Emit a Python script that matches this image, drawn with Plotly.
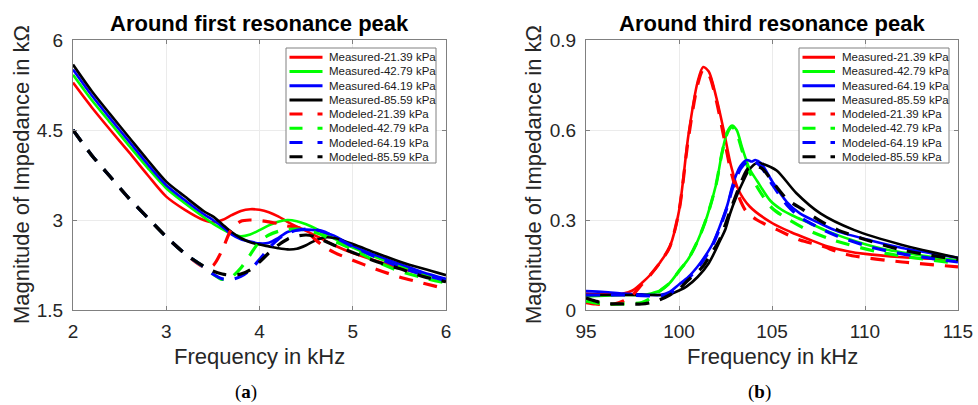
import plotly.graph_objects as go

# ---------------- data ----------------
series_names = ["Measured-21.39 kPa", "Measured-42.79 kPa", "Measured-64.19 kPa", "Measured-85.59 kPa",
                "Modeled-21.39 kPa", "Modeled-42.79 kPa", "Modeled-64.19 kPa", "Modeled-85.59 kPa"]
series_colors = ["#FF0000", "#00FF00", "#0000FF", "#000000"]

# Panel (a): around first resonance peak
f1 = [2.0, 2.2, 2.4, 2.6, 2.8, 3.0, 3.2, 3.4, 3.5, 3.6, 3.7, 3.8, 3.9, 4.0, 4.1, 4.2,
      4.3, 4.4, 4.5, 4.6, 4.7, 4.8, 5.0, 5.25, 5.5, 5.75, 6.0]
meas1_21 = [5.29, 4.88, 4.50, 4.13, 3.75, 3.39, 3.17, 3.00, 2.96, 3.00, 3.08, 3.15, 3.18, 3.17, 3.13, 3.06,
            2.97, 2.89, 2.82, 2.74, 2.66, 2.58, 2.45, 2.32, 2.20, 2.10, 2.01]
meas1_42 = [5.42, 5.00, 4.62, 4.24, 3.87, 3.53, 3.28, 3.05, 2.94, 2.85, 2.77, 2.73, 2.76, 2.83, 2.91, 2.97,
            3.00, 2.98, 2.93, 2.86, 2.77, 2.69, 2.54, 2.38, 2.24, 2.11, 2.00]
meas1_64 = [5.51, 5.08, 4.69, 4.31, 3.93, 3.58, 3.33, 3.10, 3.00, 2.89, 2.76, 2.68, 2.64, 2.61, 2.62, 2.70,
            2.80, 2.83, 2.84, 2.83, 2.79, 2.74, 2.57, 2.41, 2.27, 2.13, 2.02]
meas1_85 = [5.59, 5.15, 4.76, 4.38, 4.00, 3.64, 3.39, 3.15, 3.06, 2.93, 2.80, 2.70, 2.63, 2.59, 2.56, 2.53,
            2.51, 2.52, 2.58, 2.66, 2.71, 2.70, 2.60, 2.45, 2.31, 2.19, 2.08]
mod1_21 = [4.50, 4.08, 3.72, 3.36, 3.04, 2.72, 2.44, 2.22, 2.24, 2.50, 2.85, 2.98, 3.00, 2.99, 2.97, 2.94,
           2.90, 2.88, 2.82, 2.67, 2.55, 2.46, 2.33, 2.18, 2.05, 1.95, 1.85]
mod1_42 = [4.50, 4.08, 3.72, 3.36, 3.04, 2.72, 2.44, 2.22, 2.10, 2.01, 2.05, 2.20, 2.42, 2.64, 2.75, 2.81,
           2.84, 2.85, 2.83, 2.79, 2.73, 2.65, 2.51, 2.31, 2.15, 2.04, 1.95]
mod1_64 = [4.50, 4.08, 3.72, 3.36, 3.04, 2.72, 2.44, 2.22, 2.10, 2.02, 2.01, 2.06, 2.17, 2.34, 2.53, 2.68,
           2.78, 2.83, 2.85, 2.84, 2.80, 2.72, 2.56, 2.38, 2.22, 2.09, 1.99]
mod1_85 = [4.50, 4.08, 3.72, 3.36, 3.04, 2.72, 2.44, 2.23, 2.15, 2.10, 2.08, 2.10, 2.17, 2.30, 2.45, 2.58,
           2.68, 2.73, 2.75, 2.72, 2.65, 2.58, 2.46, 2.31, 2.19, 2.06, 1.97]

# Panel (b): around third resonance peak
f3_m21 = [95, 96, 97, 97.5, 98, 98.5, 99, 99.5, 100, 100.5, 101, 101.3, 101.6, 102.0, 102.4, 102.8,
          103.2, 103.8, 105, 106, 107, 108, 109, 110, 112, 115]
meas3_21 = [0.055, 0.052, 0.055, 0.065, 0.09, 0.12, 0.16, 0.21, 0.33, 0.58, 0.76, 0.81, 0.795, 0.71, 0.60, 0.48,
            0.40, 0.345, 0.29, 0.26, 0.235, 0.212, 0.197, 0.187, 0.176, 0.166]
f3_d21 = [95, 95.5, 96, 96.5, 97, 97.5, 98, 98.5, 99, 99.5, 100, 100.5, 101, 101.3, 101.6, 102.0, 102.4,
          102.8, 103.2, 103.6, 104.2, 105.3, 106.5, 107.6, 109, 112, 115]
mod3_21 = [0.025, 0.02, 0.018, 0.02, 0.03, 0.05, 0.085, 0.12, 0.16, 0.21, 0.33, 0.57, 0.75, 0.80, 0.785, 0.70,
           0.58, 0.46, 0.38, 0.33, 0.30, 0.267, 0.233, 0.215, 0.185, 0.16, 0.144]
f3_m42 = [95, 96, 97, 98, 98.5, 99, 99.5, 100, 100.5, 101, 101.5, 102, 102.3, 102.6, 102.85, 103.1, 103.4,
          103.8, 104.2, 104.9, 105.5, 106.1, 107, 108, 109.7, 111, 113, 115]
meas3_42 = [0.045, 0.048, 0.05, 0.05, 0.055, 0.065, 0.09, 0.13, 0.17, 0.23, 0.31, 0.42, 0.52, 0.595, 0.615, 0.60,
            0.54, 0.47, 0.43, 0.365, 0.335, 0.315, 0.29, 0.262, 0.225, 0.203, 0.182, 0.165]
f3_d42 = [95, 96, 97, 98, 98.5, 99, 99.5, 100, 100.5, 101, 101.5, 102, 102.3, 102.6, 102.85, 103.1, 103.4,
          103.8, 104.3, 105, 105.8, 106.9, 108.3, 111, 115]
mod3_42 = [0.03, 0.02, 0.02, 0.025, 0.04, 0.065, 0.09, 0.13, 0.17, 0.23, 0.31, 0.42, 0.52, 0.59, 0.61, 0.59,
           0.53, 0.46, 0.40, 0.34, 0.305, 0.267, 0.233, 0.19, 0.155]
f3_m64 = [95, 96, 97, 98, 99, 99.5, 100, 100.5, 101, 101.3, 101.8, 102.2, 102.6, 102.9, 103.3, 103.65, 103.9,
          104.1, 104.4, 105, 105.8, 106.5, 107.6, 108.5, 110.3, 112, 115]
meas3_64 = [0.063, 0.06, 0.055, 0.052, 0.05, 0.06, 0.085, 0.11, 0.145, 0.17, 0.22, 0.28, 0.35, 0.42, 0.48, 0.50,
            0.495, 0.50, 0.49, 0.43, 0.36, 0.322, 0.288, 0.263, 0.232, 0.207, 0.174]
f3_d64 = [95, 96, 97, 98, 99, 99.5, 100, 100.5, 101, 101.3, 101.8, 102.2, 102.6, 102.9, 103.3, 103.65, 103.9,
          104.2, 104.5, 105, 105.8, 106.5, 107.6, 108.5, 110.3, 112, 115]
mod3_64 = [0.05, 0.05, 0.05, 0.048, 0.048, 0.055, 0.08, 0.105, 0.14, 0.165, 0.215, 0.275, 0.345, 0.41, 0.47, 0.495,
           0.50, 0.49, 0.47, 0.42, 0.35, 0.31, 0.272, 0.247, 0.21, 0.187, 0.16]
f3_m85 = [95, 96, 97, 98, 99, 99.5, 100, 100.4, 101, 101.6, 102.2, 102.5, 102.74, 103.1, 103.46, 103.8, 104.2,
          104.6, 105.25, 106.3, 107.6, 109.4, 112, 115]
meas3_85 = [0.05, 0.05, 0.05, 0.05, 0.05, 0.052, 0.065, 0.078, 0.11, 0.156, 0.23, 0.27, 0.32, 0.38, 0.43, 0.47,
            0.49, 0.485, 0.465, 0.39, 0.322, 0.267, 0.217, 0.174]
f3_d85 = [95, 95.5, 96, 97, 98, 98.5, 99, 99.5, 100, 100.5, 101.27, 101.7, 102.17, 102.8, 103.3, 103.7, 104.1,
          104.5, 105, 105.8, 106.7, 107.6, 108.5, 110, 112, 115]
mod3_85 = [0.04, 0.03, 0.022, 0.02, 0.02, 0.025, 0.035, 0.05, 0.07, 0.10, 0.144, 0.185, 0.233, 0.339, 0.42, 0.47,
           0.48, 0.47, 0.43, 0.37, 0.333, 0.297, 0.268, 0.235, 0.2, 0.168]

xticks_a = [2, 3, 4, 5, 6]
yticks_a = [1.5, 3, 4.5, 6]
xticks_b = [95, 100, 105, 110, 115]
yticks_b = [0, 0.3, 0.6, 0.9]
ytick_text_b = ["0", "0.3", "0.6", "0.9"]

# ---------------- figure ----------------
W, H = 978, 405
FONT = "Liberation Sans"
AX_GRAY = "#808080"
TXT = "#262626"

fig = go.Figure()

panel_a = [(f1, meas1_21), (f1, meas1_42), (f1, meas1_64), (f1, meas1_85),
           (f1, mod1_21), (f1, mod1_42), (f1, mod1_64), (f1, mod1_85)]
panel_b = [(f3_m21, meas3_21), (f3_m42, meas3_42), (f3_m64, meas3_64), (f3_m85, meas3_85),
           (f3_d21, mod3_21), (f3_d42, mod3_42), (f3_d64, mod3_64), (f3_d85, mod3_85)]


def add_panel(panel, xa, ya):
    for i, (xs, ys) in enumerate(panel):
        dashed = i >= 4
        fig.add_trace(go.Scatter(
            x=xs, y=ys, xaxis=xa, yaxis=ya, mode="lines", name=series_names[i],
            showlegend=False, hoverinfo="skip",
            line=dict(color=series_colors[i % 4], width=3.2 if dashed else 2.6,
                      dash="14px,11px" if dashed else "solid",
                      shape="spline", smoothing=0.8)))


add_panel(panel_a, "x", "y")
add_panel(panel_b, "x2", "y2")


def px(x):
    return x / W


def py(y):
    return 1 - y / H


common_axis = dict(showline=True, linecolor=AX_GRAY, linewidth=1, mirror="ticks",
                   ticks="inside", ticklen=4, tickcolor=AX_GRAY, showgrid=True,
                   gridcolor="#EBEBEB", gridwidth=1, zeroline=False, automargin=False,
                   tickfont=dict(family=FONT, size=19, color=TXT))

fig.update_layout(
    width=W, height=H, autosize=False,
    margin=dict(l=0, r=0, t=0, b=0, pad=0, autoexpand=False),
    paper_bgcolor="white", plot_bgcolor="white", showlegend=False,
    xaxis=dict(domain=[px(73), px(446)], range=[2, 6], tickvals=xticks_a, anchor="y",
               ticklabelstandoff=4, **common_axis),
    yaxis=dict(domain=[py(310), py(40)], range=[1.5, 6], tickvals=yticks_a, anchor="x",
               ticklabelstandoff=5, **common_axis),
    xaxis2=dict(domain=[px(586), px(958)], range=[95, 115], tickvals=xticks_b, anchor="y2",
                ticklabelstandoff=4, **common_axis),
    yaxis2=dict(domain=[py(310), py(40)], range=[0, 0.9], tickvals=yticks_b, ticktext=ytick_text_b,
                anchor="x2", ticklabelstandoff=5, **common_axis),
)

ann = []
# titles
for cx, ttl in ((259.5, "<b>Around first resonance peak</b>"), (772, "<b>Around third resonance peak</b>")):
    ann.append(dict(x=px(cx), y=py(23), text=ttl, xref="paper", yref="paper", showarrow=False,
                    xanchor="center", yanchor="middle",
                    font=dict(family=FONT, size=22, color="#000000")))
# axis titles
for cx in (259.5, 772):
    ann.append(dict(x=px(cx), y=py(356), text="Frequency in kHz", xref="paper", yref="paper",
                    showarrow=False, xanchor="center", yanchor="middle",
                    font=dict(family=FONT, size=22, color=TXT)))
for cx in (22, 534):
    ann.append(dict(x=px(cx), y=py(175), text="Magnitude of Impedance in kΩ", textangle=-90,
                    xref="paper", yref="paper", showarrow=False, xanchor="center", yanchor="middle",
                    font=dict(family=FONT, size=22, color=TXT)))
# sub labels
for cx, lab in ((246, "(<b>a</b>)"), (759, "(<b>b</b>)")):
    ann.append(dict(x=px(cx), y=py(392), text=lab, xref="paper", yref="paper", showarrow=False,
                    xanchor="center", yanchor="middle",
                    font=dict(family="Liberation Serif", size=19, color="#000000")))

# compact legends drawn as in the reference
shapes = []
for bx0, bx1, lx0, lx1, tx in ((286, 436, 289.5, 322.5, 326.5), (799, 949, 802.5, 835, 839.5)):
    shapes.append(dict(type="rect", xref="paper", yref="paper", x0=px(bx0), x1=px(bx1),
                       y0=py(163), y1=py(48), fillcolor="white", line=dict(color=AX_GRAY, width=1),
                       layer="above"))
    for i, name in enumerate(series_names):
        yc = 57.3 + i * 14.2
        dashed = i >= 4
        shapes.append(dict(type="line", xref="paper", yref="paper", x0=px(lx0), x1=px(lx1),
                           y0=py(yc), y1=py(yc), layer="above",
                           line=dict(color=series_colors[i % 4], width=3,
                                     dash="13px,15px" if dashed else "solid")))
        ann.append(dict(x=px(tx), y=py(yc), text=name, xref="paper", yref="paper", showarrow=False,
                        xanchor="left", yanchor="middle",
                        font=dict(family=FONT, size=11.5, color="#1a1a1a")))

fig.update_layout(annotations=ann, shapes=shapes)
fig.write_html("out.html", config={"displayModeBar": False, "staticPlot": True},
               post_script="document.body.style.margin='0px';document.body.style.overflow='hidden';")
